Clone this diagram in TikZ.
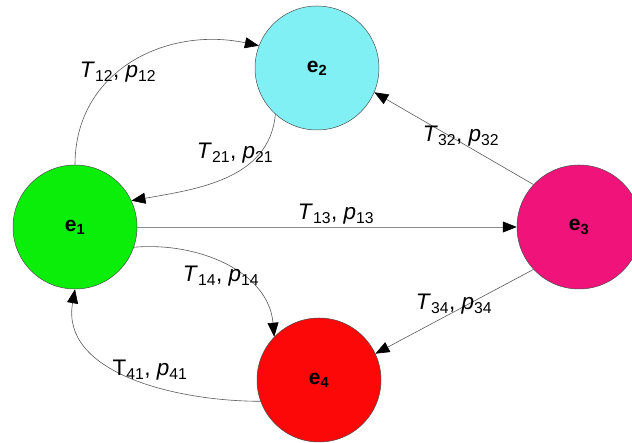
\documentclass[tikz,border=0pt]{standalone}
\usepackage{fontspec}
\setmainfont{Liberation Sans}
\usetikzlibrary{arrows.meta}
\definecolor{cgreen}{RGB}{10,238,10}
\definecolor{ccyan}{RGB}{128,240,244}
\definecolor{cmag}{RGB}{240,20,122}
\definecolor{cred}{RGB}{252,8,8}
\newcommand{\tp}[2]{\textit{T}\textsubscript{#1}, \textit{p}\textsubscript{#2}}
\newcommand{\tpu}[2]{T\textsubscript{#1}, \textit{p}\textsubscript{#2}}
\begin{document}
\begin{tikzpicture}[x=1pt,y=1pt,
  state/.style={circle, draw=black!70, line width=0.5pt, minimum size=124pt, inner sep=0pt,
    font=\fontsize{21}{24}\selectfont\bfseries},
  conn/.style={draw=black!65, line width=0.6pt, -{Triangle[length=14pt,width=11pt,black]}},
  lab/.style={font=\fontsize{22.5}{26}\selectfont, inner sep=1pt}]
\useasboundingbox (0,0) rectangle (632,443);
\begin{scope}
\clip (0,0) rectangle (632,443);
\node[state, fill=cgreen] (e1) at (75,216) {e\textsubscript{1}};
\node[state, fill=ccyan] (e2) at (317,375) {e\textsubscript{2}};
\node[state, fill=cmag] (e3) at (579,216) {e\textsubscript{3}};
\node[state, fill=cred] (e4) at (319,63) {e\textsubscript{4}};
\end{scope}
\draw[conn] (e1.90) to[out=90, in=168, looseness=1.1] (e2.159);
\draw[conn] (e2.228) to[out=265, in=10] (e1.25);
\draw[conn, draw=black!45] (e1.east) -- (e3.west);
\draw[conn] (e3.137) -- (e2.337);
\draw[conn] (e3.223) -- (e4.25);
\draw[conn] (e1.341) to[out=5, in=95] (e4.136);
\draw[conn] (e4.200) to[out=180, in=-100] (e1.270);
\node[lab] (l12) at (118,371) {\tp{12}{12}};
\node[lab] (l21) at (235,290) {\tp{21}{21}};
\node[lab] (l13) at (336,229) {\tp{13}{13}};
\node[lab] (l32) at (461,307) {\tp{32}{32}};
\node[lab] (l34) at (454,139) {\tp{34}{34}};
\node[lab] (l14) at (221,167) {\tp{14}{14}};
\node[lab] (l41) at (150,73) {\tpu{41}{41}};
\end{tikzpicture}
\end{document}
